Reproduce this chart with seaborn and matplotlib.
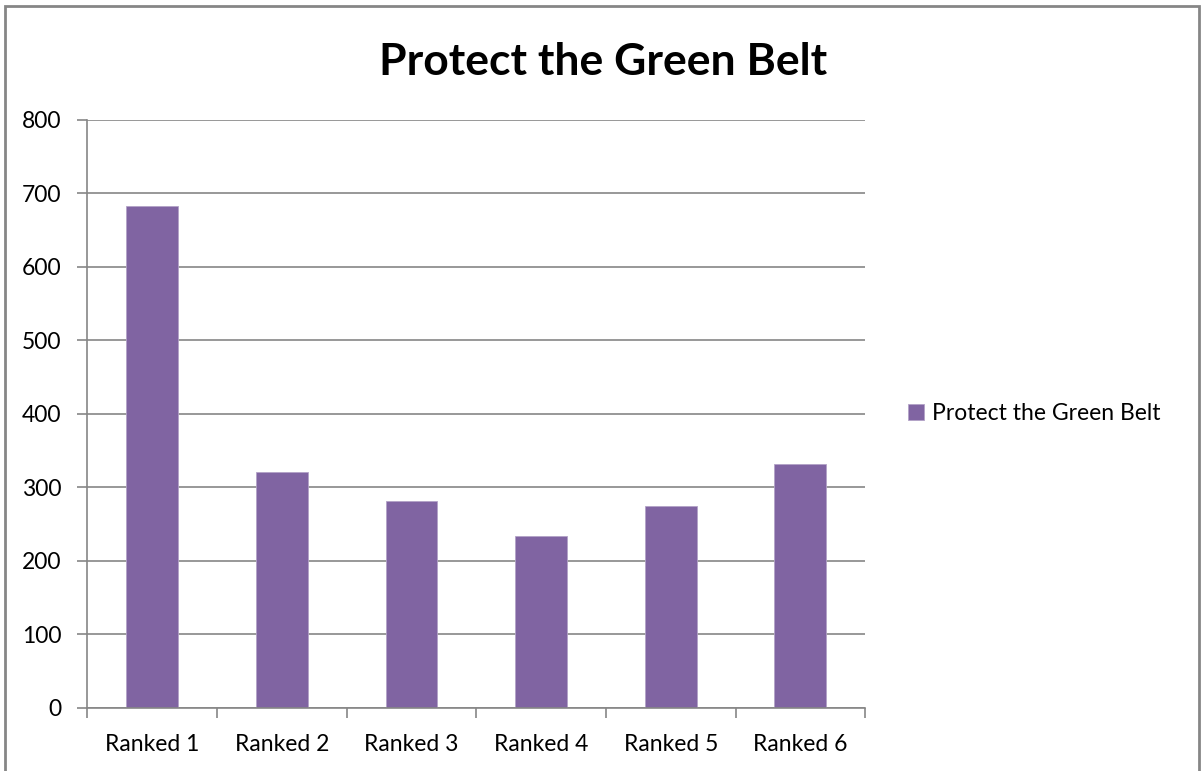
import matplotlib
matplotlib.use("Agg")
import matplotlib.pyplot as plt
import numpy as np
import pandas as pd
import seaborn as sns
from matplotlib.patches import Rectangle

categories = ["Ranked 1", "Ranked 2", "Ranked 3", "Ranked 4", "Ranked 5", "Ranked 6"]
values = [682, 321, 281, 233, 274, 332]
series_name = "Protect the Green Belt"
y_ticks = [0, 100, 200, 300, 400, 500, 600, 700, 800]

BAR_COLOR = "#8064A2"
GRID_COLOR = "#868686"
FS = 16.5

sns.set_theme(style="white")
plt.rcParams["font.family"] = ["Lato", "DejaVu Sans"]
plt.rcParams["text.color"] = "black"
plt.rcParams["xtick.color"] = "black"
plt.rcParams["ytick.color"] = "black"

df = pd.DataFrame({"rank": categories, "count": values, "series": series_name})

fig = plt.figure(figsize=(12.03, 7.71), dpi=100)
ax = fig.add_axes([0.0726, 0.0821, 0.6466, 0.7626])

sns.barplot(data=df, x="rank", y="count", hue="series", palette=[BAR_COLOR],
            width=0.4, ax=ax, saturation=1.0, edgecolor="#B3A2C7", linewidth=0.6)

ax.set_ylim(0, 800)
ax.set_xlim(-0.5, len(categories) - 0.5)
ax.set_yticks(y_ticks)
ax.set_yticklabels([str(t) for t in y_ticks], fontsize=FS)
ax.set_xticks(range(len(categories)))
ax.set_xticklabels(categories, fontsize=FS)
ax.set_xlabel("")
ax.set_ylabel("")

ax.yaxis.grid(True, color=GRID_COLOR, linewidth=1.2)
ax.set_axisbelow(True)
for side in ["top", "right"]:
    ax.spines[side].set_visible(False)
for side in ["left", "bottom"]:
    ax.spines[side].set_color(GRID_COLOR)
    ax.spines[side].set_linewidth(1.2)

ax.tick_params(axis="y", length=7.2, color=GRID_COLOR, labelcolor="black",
               width=1.2, pad=11.5, left=True)
ax.tick_params(axis="x", which="major", length=0, pad=19, labelcolor="black")
ax.set_xticks(np.arange(-0.5, len(categories), 1.0), minor=True)
ax.tick_params(axis="x", which="minor", length=7, color=GRID_COLOR, width=1.2, bottom=True)

leg = ax.legend(loc="center left", bbox_to_anchor=(1.029, 0.5), frameon=False,
                fontsize=FS, handlelength=0.68, handleheight=0.68, handletextpad=0.35)

fig.text(0.501, 0.92, "Protect the Green Belt", ha="center", va="center",
         fontsize=32, fontweight="bold", color="black")

fig.patches.append(Rectangle((0.0045, -0.05), 0.992, 1.042, transform=fig.transFigure,
                             fill=False, edgecolor=GRID_COLOR, linewidth=2.0))

fig.savefig("out.png", dpi=100)
